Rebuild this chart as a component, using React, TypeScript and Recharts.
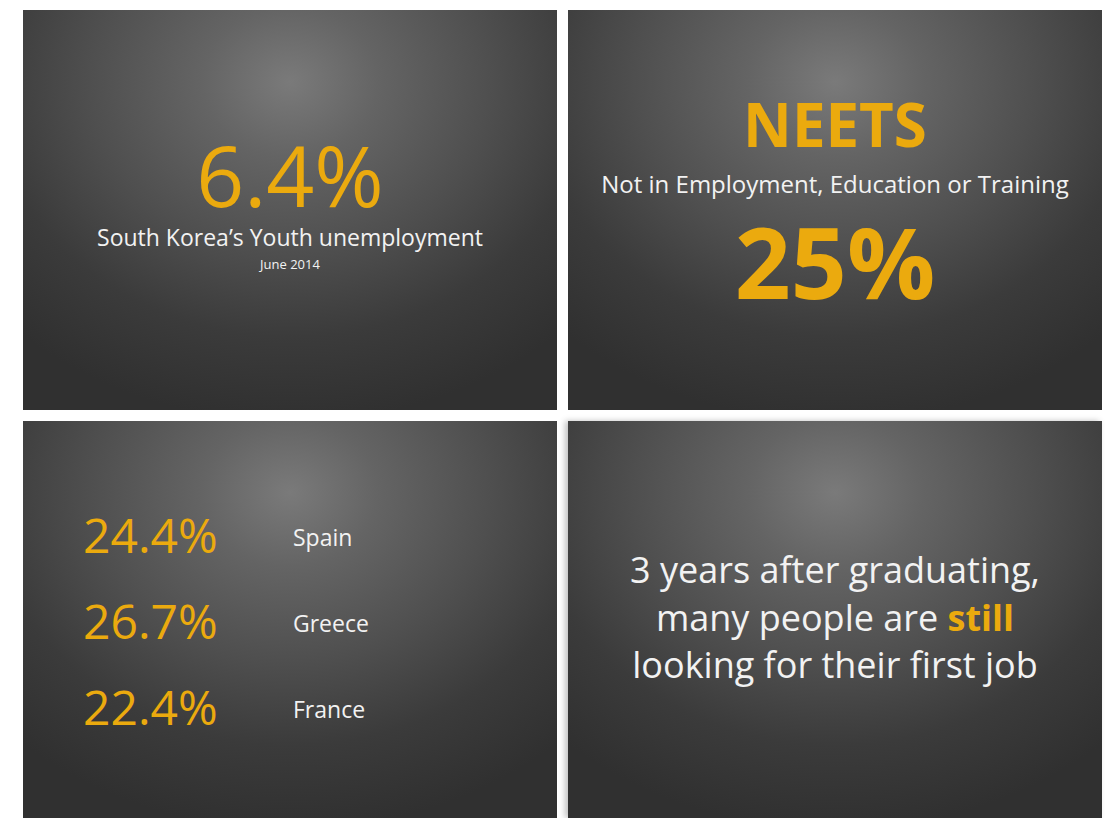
import { BarChart, Bar, XAxis, YAxis, LabelList, Customized } from "recharts";

const koreaRate = [6.4];
const koreaLabel = ["South Korea’s Youth unemployment", "June 2014"];
const neetTitle = ["NEETS", "Not in Employment, Education or Training"];
const neetShare = [25];
const countries = ["Spain", "Greece", "France"];
const countryRates = [24.4, 26.7, 22.4];
const quoteLines = ["3 years after graduating,", "many people are ", "still", "looking for their first job"];

const ORANGE = "#EBAA0E";
const WHITE = "#F2F2F2";
const FONT = "'Open Sans', 'Noto Sans', sans-serif";
const W = 534;
const H = 400;

const panelBg =
  "radial-gradient(ellipse 75% 85% at 50% 18%, #7a7a7a 0%, #646464 22%, #4f4f4f 50%, #3b3b3b 75%, #303030 100%)";

const countryData = countries.map((c, i) => ({ country: c, value: countryRates[i] }));

const KoreaText = () => (
  <g fontFamily={FONT} textAnchor="middle">
    <text x={W / 2} y={197} fill={ORANGE} fontSize={84}>
      {koreaRate[0]}%
    </text>
    <text x={W / 2} y={236} fill={WHITE} fontSize={23}>
      {koreaLabel[0]}
    </text>
    <text x={W / 2} y={259} fill={WHITE} fontSize={13}>
      {koreaLabel[1]}
    </text>
  </g>
);

const NeetText = () => (
  <g fontFamily={FONT} textAnchor="middle">
    <text x={W / 2} y={137} fill={ORANGE} fontSize={60} fontWeight={700}>
      {neetTitle[0]}
    </text>
    <text x={W / 2} y={183} fill={WHITE} fontSize={24}>
      {neetTitle[1]}
    </text>
    <text x={W / 2} y={289} fill={ORANGE} fontSize={98} fontWeight={700}>
      {neetShare[0]}%
    </text>
  </g>
);

const QuoteText = () => (
  <g fontFamily={FONT} textAnchor="middle" fontSize={36} fill={WHITE}>
    <text x={W / 2} y={162}>{quoteLines[0]}</text>
    <text x={W / 2} y={210}>
      {quoteLines[1]}
      <tspan fill={ORANGE} fontWeight={700}>{quoteLines[2]}</tspan>
    </text>
    <text x={W / 2} y={257}>{quoteLines[3]}</text>
  </g>
);

const CountryRow = (props: any) => {
  const { y, height, index } = props;
  const cy = y + height / 2;
  return (
    <g fontFamily={FONT}>
      <text x={60} y={cy + 18} fill={ORANGE} fontSize={48}>
        {countryRates[index]}%
      </text>
      <text x={270} y={cy + 11} fill={WHITE} fontSize={23}>
        {countries[index]}
      </text>
    </g>
  );
};

const Panel = ({ left, top, height = H, shadow = false, children }: any) => (
  <div
    style={{
      position: "absolute",
      left,
      top,
      width: W,
      height,
      background: panelBg,
      boxShadow: shadow ? "-3px 0 6px rgba(0,0,0,0.25)" : "none",
    }}
  >
    {children}
  </div>
);

export default function App() {
  return (
    <div
      style={{
        position: "fixed",
        left: 0,
        top: 0,
        width: 1105,
        height: 818,
        background: "#ffffff",
        overflow: "hidden",
      }}
    >
      <Panel left={23} top={10}>
        <BarChart width={W} height={H} data={[]}>
          <Customized component={<KoreaText />} />
        </BarChart>
      </Panel>
      <Panel left={568} top={10}>
        <BarChart width={W} height={H} data={[]}>
          <Customized component={<NeetText />} />
        </BarChart>
      </Panel>
      <Panel left={23} top={421} height={397}>
        <BarChart
          width={W}
          height={397}
          data={countryData}
          layout="vertical"
          margin={{ top: 71, right: 0, bottom: 68, left: 0 }}
        >
          <XAxis type="number" hide domain={[0, 100]} />
          <YAxis type="category" dataKey="country" hide />
          <Bar dataKey="value" fill="none" isAnimationActive={false}>
            <LabelList dataKey="value" content={<CountryRow />} />
          </Bar>
        </BarChart>
      </Panel>
      <Panel left={568} top={421} height={397} shadow>
        <BarChart width={W} height={397} data={[]}>
          <Customized component={<QuoteText />} />
        </BarChart>
      </Panel>
    </div>
  );
}
